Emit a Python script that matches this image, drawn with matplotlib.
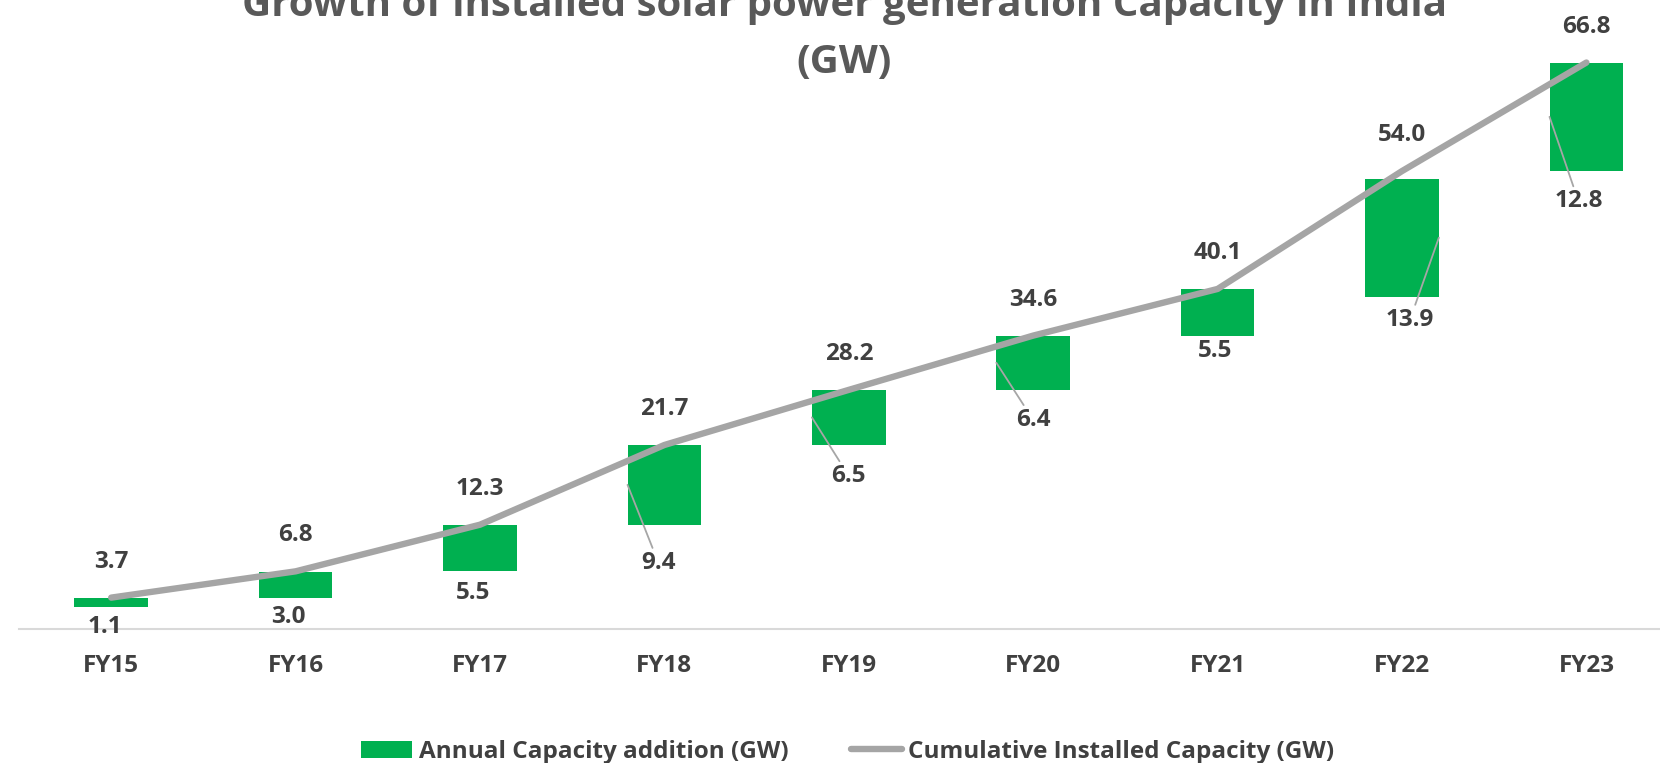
import matplotlib.pyplot as plt
import matplotlib.transforms as mtransforms

plt.rcParams['font.family'] = ['Open Sans', 'DejaVu Sans']

years = ['FY15', 'FY16', 'FY17', 'FY18', 'FY19', 'FY20', 'FY21', 'FY22', 'FY23']
annual_add = [1.1, 3.0, 5.5, 9.4, 6.5, 6.4, 5.5, 13.9, 12.8]
cumulative = [3.7, 6.8, 12.3, 21.7, 28.2, 34.6, 40.1, 54.0, 66.8]
# floating bar bottoms (FY22 sits a little low in the source)
bar_base = [2.6, 3.7, 6.8, 12.3, 21.7, 28.2, 34.6, 39.2, 54.0]

# hand placed labels in the source: pixel offsets from the bar bottom
add_dx = [-6, -7, -7, -6, 0, 0, -3, 8, -8]
add_dy = [-20, -19, -22, -38, -31, -30, -15, -23, -30]
leader = [0, 0, 0, -1, -1, -1, 0, 1, -1]   # -1 left edge, 1 right edge, 0 none

GREEN = '#00B050'
GREY = '#A5A5A5'
TXT = '#404040'

fig = plt.figure(figsize=(16.6, 7.63), dpi=100)
ax = fig.add_axes([19 / 1660, 134 / 763, 1659.6 / 1660, (629 - 35.4) / 763])

x = list(range(len(years)))
w = 0.40
bars = ax.bar(x, annual_add, width=w, bottom=bar_base, color=GREEN, zorder=2,
              label='Annual Capacity addition (GW)')
line, = ax.plot(x, cumulative, color=GREY, lw=4.6, solid_joinstyle='round',
                solid_capstyle='round', zorder=3, label='Cumulative Installed Capacity (GW)')

lbl = dict(ha='center', va='center', fontsize=17.5, fontweight='bold', color=TXT, zorder=4)
for i in x:
    ax.annotate(f'{cumulative[i]:.1f}', xy=(i, cumulative[i]), xytext=(0, 36),
                textcoords='offset pixels', **lbl)
    tr = mtransforms.offset_copy(ax.transData, fig, x=add_dx[i], y=add_dy[i], units='dots')
    if leader[i]:
        ax.annotate(f'{annual_add[i]:.1f}',
                    xy=(i + leader[i] * w / 2, bar_base[i] + annual_add[i] / 2),
                    xytext=(i, bar_base[i]), textcoords=tr,
                    arrowprops=dict(arrowstyle='-', color='#A6A6A6', lw=1.3,
                                    shrinkA=0, shrinkB=0), **lbl)
    else:
        ax.annotate(f'{annual_add[i]:.1f}', xy=(i, bar_base[i]),
                    xytext=(i, bar_base[i]), textcoords=tr, **lbl)

ax.set_xlim(-0.5, 8.5)
ax.set_ylim(0, 70)
ax.set_xticks(x)
ax.set_xticklabels(years, fontsize=17.5, fontweight='bold', color=TXT)
ax.tick_params(axis='x', length=0, pad=18)
ax.set_yticks([])
for s in ['top', 'right', 'left']:
    ax.spines[s].set_visible(False)
ax.spines['bottom'].set_color('#D9D9D9')
ax.spines['bottom'].set_linewidth(1.5)

fig.text(844 / 1660, 1 - 16 / 763, 'Growth of installed solar power generation Capacity in India',
         ha='center', va='baseline', fontsize=29, fontweight='bold', color='#595959')
fig.text(844 / 1660, 1 - 73 / 763, '(GW)',
         ha='center', va='baseline', fontsize=29, fontweight='bold', color='#595959')

fig.legend([bars, line], ['Annual Capacity addition (GW)', 'Cumulative Installed Capacity (GW)'],
           loc='center', bbox_to_anchor=(848 / 1660, 11 / 763), ncol=2, frameon=False,
           prop=dict(size=17.5, weight='bold'), labelcolor=TXT, handlelength=2.1,
           handleheight=0.75, handletextpad=0.25, columnspacing=2.6)

fig.savefig('out.png', dpi=100)
